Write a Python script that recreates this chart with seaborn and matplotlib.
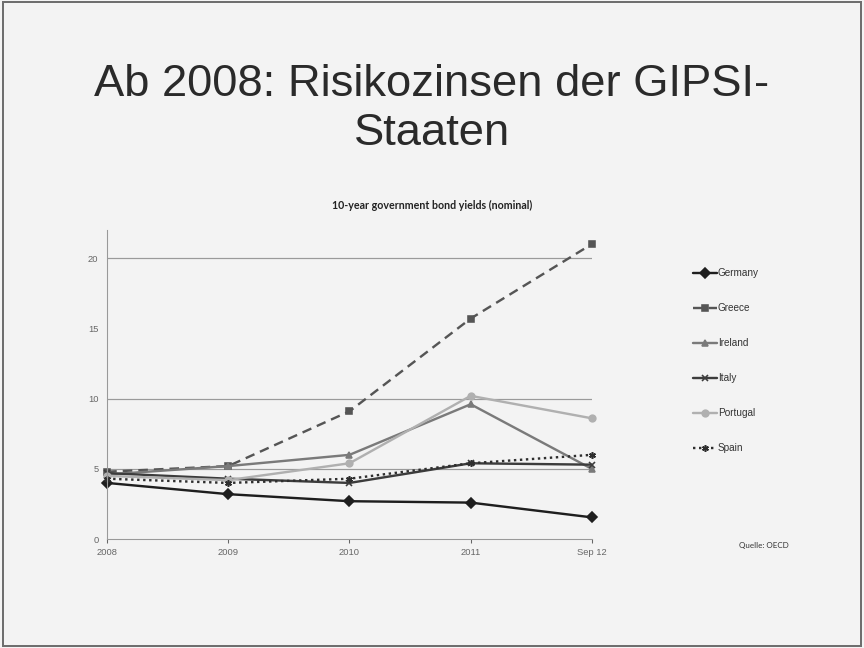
import numpy as np
import pandas as pd
import matplotlib.pyplot as plt
import seaborn as sns
from matplotlib.patches import Rectangle

# values
periods = ['2008', '2009', '2010', '2011', 'Sep 12']
germany = [4.0, 3.2, 2.7, 2.6, 1.55]
greece = [4.8, 5.2, 9.1, 15.7, 21.0]
ireland = [4.6, 5.2, 6.0, 9.6, 5.0]
italy = [4.7, 4.3, 4.0, 5.4, 5.3]
portugal = [4.5, 4.2, 5.4, 10.2, 8.6]
spain = [4.3, 4.0, 4.3, 5.4, 6.0]

countries = ['Germany', 'Greece', 'Ireland', 'Italy', 'Portugal', 'Spain']
series = [germany, greece, ireland, italy, portugal, spain]

rows = []
for c, vals in zip(countries, series):
    for i, v in enumerate(vals):
        rows.append({'period': i, 'yield': v, 'country': c})
data = pd.DataFrame(rows)

sns.set_style('white')
plt.rcParams['font.family'] = ['Liberation Sans', 'DejaVu Sans']

colors = {'Germany': '#1e1e1e', 'Greece': '#555555', 'Ireland': '#7a7a7a',
          'Italy': '#3c3c3c', 'Portugal': '#b0b0b0', 'Spain': '#2e2e2e'}
styles = {'Germany': '-', 'Greece': (0, (4, 2.5)), 'Ireland': '-', 'Italy': '-',
          'Portugal': '-', 'Spain': (0, (1, 1.5))}
markers = {'Germany': 'D', 'Greece': 's', 'Ireland': '^', 'Italy': 'x',
           'Portugal': 'o', 'Spain': (6, 2, 0)}
msizes = {'Germany': 5, 'Greece': 7, 'Ireland': 6, 'Italy': 7,
          'Portugal': 7, 'Spain': 9}

fig = plt.figure(figsize=(9, 6.75), dpi=96)
fig.patch.set_facecolor('#f3f3f3')
fig.add_artist(Rectangle((0.003, 0.003), 0.994, 0.994, transform=fig.transFigure,
                         fill=False, edgecolor='#6e6e6e', linewidth=1.5))

ax = fig.add_axes([0.124, 0.168, 0.561, 0.477])
ax.set_facecolor('none')

for c in countries:
    sub = data[data['country'] == c]
    sns.lineplot(data=sub, x='period', y='yield', color=colors[c], label=c,
                 linestyle=styles[c], marker=markers[c], markersize=msizes[c],
                 markeredgecolor=colors[c], markeredgewidth=1.2,
                 linewidth=1.8, clip_on=False, ax=ax)

ax.set_xlim(0, 4)
ax.set_ylim(0, 22)
ax.set_xticks(range(len(periods)))
ax.set_xticklabels(periods)
ax.set_yticks([0, 5, 10, 15, 20])
ax.set_yticklabels(['0', '5', '10', '15', '20'])
ax.tick_params(axis='both', labelsize=7, colors='#666666', length=3)
ax.tick_params(axis='x', direction='out', bottom=True)
ax.set_xlabel('')
ax.set_ylabel('')
for y in [5, 10, 20]:
    ax.axhline(y, color='#9a9a9a', linewidth=0.9, zorder=0)
for s in ['top', 'right']:
    ax.spines[s].set_visible(False)
ax.spines['left'].set_color('#999999')
ax.spines['bottom'].set_color('#999999')

handles, labels = ax.get_legend_handles_labels()
for h in handles:
    h.set_markersize(5)
ax.legend(handles, labels, loc='upper left', bbox_to_anchor=(1.19, 0.905),
          frameon=False, fontsize=7.5, labelspacing=2.5, handlelength=2.4,
          handletextpad=0.1, labelcolor='#333333')

fig.text(0.5, 0.832, 'Ab 2008: Risikozinsen der GIPSI-\nStaaten', ha='center',
         va='center', fontsize=34, color='#2a2a2a', linespacing=1.24)
fig.text(0.5, 0.683, '10-year government bond yields (nominal)', ha='center',
         va='center', fontsize=8, fontweight='bold', color='#222222',
         family=['Lato', 'DejaVu Sans'])
fig.text(0.855, 0.158, 'Quelle: OECD', ha='left', va='center', fontsize=6,
         color='#333333', family=['Lato', 'DejaVu Sans'])

fig.savefig('out.png', dpi=96, facecolor=fig.get_facecolor())
